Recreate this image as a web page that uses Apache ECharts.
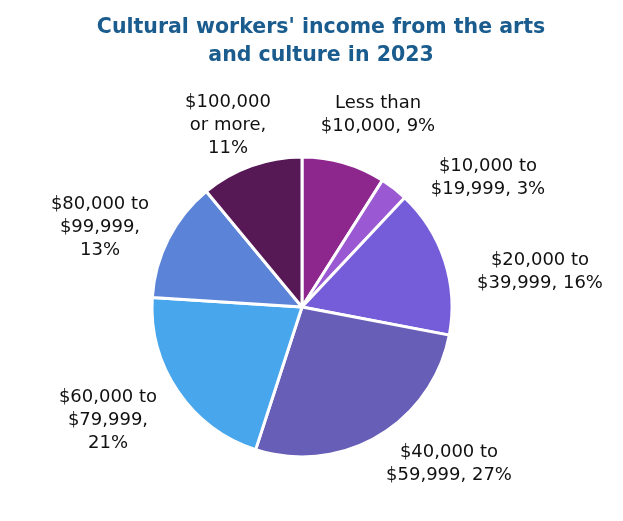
<!DOCTYPE html>
<html>
<head>
<meta charset="utf-8">
<script src="https://cdn.jsdelivr.net/npm/echarts@6/dist/echarts.min.js"></script>
<style>
  html, body { margin: 0; padding: 0; background: #fff; }
  #chart { width: 623px; height: 521px; }
</style>
</head>
<body>
<div id="chart"></div>
<script>
// income brackets, clockwise from 12 o'clock
const brackets = ['Less than\n$10,000', '$10,000 to\n$19,999', '$20,000 to\n$39,999',
    '$40,000 to\n$59,999', '$60,000 to\n$79,999', '$80,000 to\n$99,999', '$100,000\nor more'];
const shares = [9, 3, 16, 27, 21, 13, 11];
// how each label is broken after the bracket name
const labelJoin = [', ', ', ', ', ', ', ', ',\n', ',\n', ',\n'];

const colors = ['#8E278D', '#9B58D3', '#755DD9', '#675EB7', '#47A6EC', '#5B83D8', '#571856'];

// label anchor offsets from the pie centre (px)
const labelOffset = [[76, -192], [186, -129], [238, -35], [147, 157], [-194, 113], [-202, -80], [-74, -182]];

const cx = 302, cy = 307;

const chart = echarts.init(document.getElementById('chart'));

chart.setOption({
    animation: false,
    title: {
        text: "Cultural workers' income from the arts\nand culture in 2023",
        left: 316,
        top: 9,
        textAlign: 'center',
        textStyle: {
            fontFamily: 'DejaVu Sans',
            fontSize: 20.5,
            fontWeight: 'bold',
            lineHeight: 28,
            color: '#1A5C8E'
        }
    },
    series: [
        {
            type: 'pie',
            center: [cx, cy],
            radius: 150,
            startAngle: 90,
            clockwise: true,
            data: brackets.map((b, i) => ({
                name: b,
                value: shares[i],
                itemStyle: { color: colors[i] }
            })),
            itemStyle: { borderColor: '#fff', borderWidth: 3 },
            label: {
                show: true,
                position: 'outside',
                formatter: p => p.name + labelJoin[p.dataIndex] + p.value + '%',
                fontFamily: 'DejaVu Sans',
                fontSize: 18,
                lineHeight: 23,
                color: '#111',
                align: 'center',
                overflow: 'none'
            },
            labelLine: { show: false },
            labelLayout: function (params) {
                const o = labelOffset[params.dataIndex];
                return {
                    x: cx + o[0],
                    y: cy + o[1],
                    align: 'center',
                    verticalAlign: 'middle'
                };
            }
        }
    ]
});
</script>
</body>
</html>
